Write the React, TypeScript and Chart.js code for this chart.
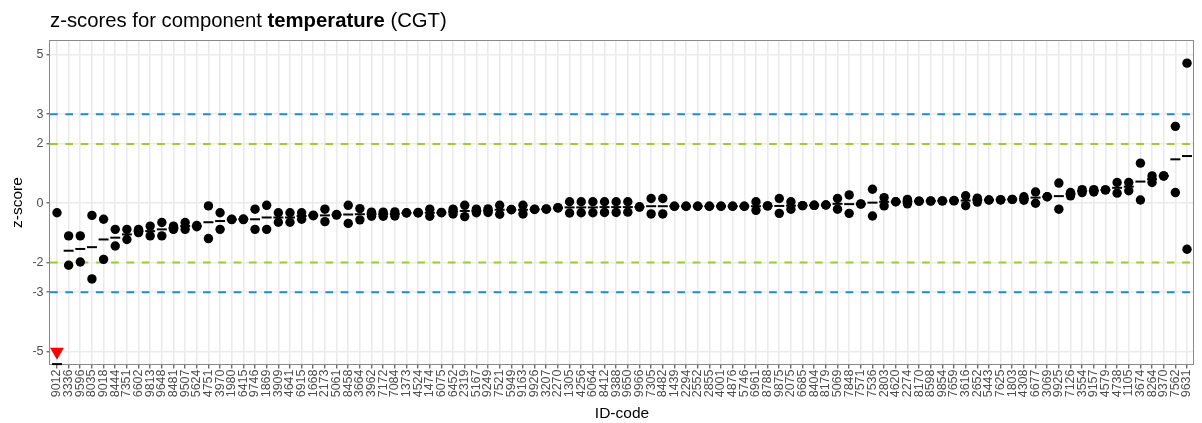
import React, { useEffect, useRef } from "react";
import { Chart, registerables } from "chart.js";

Chart.register(...registerables);

const FONT = "'Liberation Sans', Arial, Helvetica, sans-serif";

// Lab ID codes (x categories), sorted by mean z-score
const labCodes = [
  "9012","3336","9596","8035","9018","8444","7351","6602","9813","9648",
  "8481","9507","5624","4751","3970","1980","6415","9746","1869","3909",
  "4641","6915","1668","2173","5061","8458","3664","3962","7172","7084",
  "1373","4524","1474","6075","6452","2319","5167","9249","7521","5949",
  "9163","9926","3207","2270","1305","4256","6064","8412","9388","9650",
  "9966","7305","8482","1439","2294","2552","2855","4001","4876","5746",
  "6961","8788","9875","2075","6685","8404","8179","5069","7848","7571",
  "7536","2803","4620","2274","8170","8598","9854","7659","3616","2652",
  "5443","7625","1803","4308","6677","3069","9925","7126","3554","9157",
  "4579","4738","1105","3674","8264","9370","7562","9631",
];

// Replicate 1 z-scores
const replicate1 = [
  -0.32,-1.10,-1.10,-0.41,-0.54,-0.88,-0.88,-0.88,-0.77,-0.65,
  -0.77,-0.65,-0.75,-0.09,-0.32,-0.54,-0.53,-0.20,-0.07,-0.32,
  -0.32,-0.32,-0.40,-0.20,-0.38,-0.07,-0.18,-0.30,-0.30,-0.29,
  -0.32,-0.31,-0.20,-0.31,-0.20,-0.07,-0.20,-0.19,-0.07,-0.21,
  -0.07,-0.20,-0.19,-0.15,0.05,0.05,0.05,0.05,0.05,0.05,
  -0.12,0.16,0.16,-0.10,-0.10,-0.10,-0.10,-0.10,-0.10,-0.10,
  0.05,-0.09,0.16,0.05,-0.08,-0.07,-0.06,0.16,0.28,-0.02,
  0.47,0.19,0.05,0.13,0.07,0.07,0.08,0.08,0.25,0.17,
  0.11,0.11,0.13,0.22,0.38,0.22,0.68,0.36,0.46,0.46,
  0.45,0.70,0.70,1.35,0.92,0.92,2.59,4.72,
];

// Replicate 2 z-scores (null = off scale, shown as triangle)
const replicate2 = [
  null,-2.09,-1.98,-2.55,-1.89,-1.44,-1.22,-0.99,-1.10,-1.10,
  -0.88,-0.88,-0.79,-1.19,-0.88,-0.55,-0.55,-0.88,-0.88,-0.64,
  -0.64,-0.54,-0.42,-0.62,-0.40,-0.68,-0.56,-0.44,-0.44,-0.43,
  -0.33,-0.33,-0.44,-0.32,-0.36,-0.45,-0.32,-0.31,-0.37,-0.22,
  -0.36,-0.21,-0.20,-0.16,-0.33,-0.32,-0.32,-0.31,-0.31,-0.30,
  -0.13,-0.36,-0.36,-0.10,-0.10,-0.10,-0.10,-0.10,-0.10,-0.10,
  -0.24,-0.09,-0.34,-0.20,-0.08,-0.07,-0.06,-0.20,-0.34,-0.03,
  -0.43,-0.09,0.05,-0.02,0.07,0.08,0.08,0.09,-0.08,0.04,
  0.11,0.12,0.13,0.10,0.00,0.22,-0.20,0.25,0.36,0.38,
  0.45,0.34,0.42,0.11,0.70,0.92,0.36,-1.55,
];

// Lab means (9012 is below the axis range, drawn at the lower edge)
const labMean = [
  -5.42,-1.60,-1.54,-1.48,-1.22,-1.16,-1.05,-0.94,-0.94,-0.88,
  -0.83,-0.77,-0.77,-0.64,-0.60,-0.55,-0.54,-0.54,-0.48,-0.48,
  -0.48,-0.43,-0.41,-0.41,-0.39,-0.38,-0.37,-0.37,-0.37,-0.36,
  -0.33,-0.32,-0.32,-0.32,-0.28,-0.26,-0.26,-0.25,-0.22,-0.22,
  -0.22,-0.21,-0.20,-0.16,-0.14,-0.14,-0.14,-0.13,-0.13,-0.13,
  -0.13,-0.10,-0.10,-0.10,-0.10,-0.10,-0.10,-0.10,-0.10,-0.10,
  -0.10,-0.09,-0.09,-0.08,-0.08,-0.07,-0.06,-0.02,-0.03,-0.03,
  0.02,0.05,0.05,0.06,0.07,0.08,0.08,0.09,0.09,0.11,
  0.11,0.12,0.13,0.16,0.19,0.22,0.24,0.31,0.41,0.42,
  0.45,0.52,0.56,0.73,0.81,0.92,1.48,1.59,
];

// Off-scale markers (value below the lower limit)
const offScaleLabs = ["9012"];
const offScaleMarker = [-5];

const yTicks = [-5, -3, -2, 0, 2, 3, 5];
const warningLimits = [-2, 2];
const actionLimits = [-3, 3];

const titleParts = [
  { text: "z-scores for component ", bold: false },
  { text: "temperature", bold: true },
  { text: " (CGT)", bold: false },
];

const titlePlugin = {
  id: "mixedTitle",
  afterDraw(chart: any) {
    const ctx = chart.ctx;
    ctx.save();
    ctx.fillStyle = "#000";
    ctx.textBaseline = "alphabetic";
    ctx.textAlign = "left";
    let x = chart.chartArea.left;
    for (const p of titleParts) {
      ctx.font = `${p.bold ? "bold " : ""}20.3px ${FONT}`;
      ctx.fillText(p.text, x, 27);
      x += ctx.measureText(p.text).width;
    }
    ctx.restore();
  },
};

const limitsPlugin = {
  id: "limitLines",
  beforeDatasetsDraw(chart: any) {
    const { ctx, chartArea: a, scales } = chart;
    const y = scales.y;
    // panel border
    ctx.save();
    ctx.strokeStyle = "#8a8a8a";
    ctx.lineWidth = 1;
    ctx.strokeRect(Math.round(a.left) - 0.5, Math.round(a.top) + 0.5, Math.round(a.right - a.left), Math.round(a.bottom - a.top) - 1);
    ctx.restore();
    // reference lines
    ctx.save();
    ctx.beginPath();
    ctx.rect(a.left, a.top, a.right - a.left, a.bottom - a.top);
    ctx.clip();
    ctx.lineWidth = 2;
    ctx.setLineDash([7.7, 7.6]);
    const draw = (vals: number[], color: string) => {
      ctx.strokeStyle = color;
      for (const v of vals) {
        const py = y.getPixelForValue(v);
        ctx.beginPath();
        ctx.moveTo(a.left, py);
        ctx.lineTo(a.right, py);
        ctx.stroke();
      }
    };
    draw(warningLimits, "#9ACD32");
    draw(actionLimits, "#1E8BD6");
    ctx.restore();
  },
};

export default function App() {
  const ref = useRef<HTMLCanvasElement | null>(null);

  useEffect(() => {
    if (!ref.current) return;
    const idx = (code: string) => labCodes.indexOf(code);
    const chart = new Chart(ref.current, {
      type: "scatter",
      data: {
        datasets: [
          {
            label: "mean",
            data: labCodes.map((_, i) => ({ x: i, y: labMean[i] })),
            pointStyle: "line",
            pointRadius: 5,
            pointBorderWidth: 2,
            borderColor: "#000",
            backgroundColor: "#000",
            order: 3,
            clip: false as any,
          },
          {
            label: "replicate 1",
            data: labCodes.map((_, i) => ({ x: i, y: replicate1[i] })),
            pointStyle: "circle",
            pointRadius: 4.7,
            pointBorderWidth: 0,
            borderColor: "#000",
            backgroundColor: "#000",
            order: 1,
          },
          {
            label: "replicate 2",
            data: labCodes
              .map((_, i) => ({ x: i, y: replicate2[i] }))
              .filter((d) => d.y !== null) as any,
            pointStyle: "circle",
            pointRadius: 4.7,
            pointBorderWidth: 0,
            borderColor: "#000",
            backgroundColor: "#000",
            order: 1,
          },
          {
            label: "off scale",
            data: offScaleLabs.map((c, k) => ({ x: idx(c), y: offScaleMarker[k] })),
            pointStyle: "triangle",
            pointRotation: 180,
            pointRadius: 8,
            pointBorderWidth: 0,
            borderColor: "#FF0000",
            backgroundColor: "#FF0000",
            order: 0,
          },
        ],
      },
      options: {
        responsive: false,
        animation: false,
        events: [],
        layout: { padding: { left: 0, right: 1, top: 40, bottom: 0 } },
        plugins: {
          legend: { display: false },
          tooltip: { enabled: false },
          title: { display: false },
        },
        scales: {
          x: {
            type: "linear",
            min: -0.6,
            max: labCodes.length - 1 + 0.6,
            afterBuildTicks: (s: any) => {
              s.ticks = labCodes.map((_, i) => ({ value: i }));
            },
            afterFit: (s: any) => {
              s.height = 58;
              s.paddingLeft = 0;
              s.paddingRight = 0;
            },
            ticks: {
              autoSkip: false,
              maxRotation: 90,
              minRotation: 90,
              padding: 1,
              color: "#4d4d4d",
              font: { family: FONT, size: 12.5 },
              callback: (v: any) => labCodes[Math.round(v)] ?? "",
            },
            grid: {
              color: "#ebebeb",
              lineWidth: 1.6,
              tickLength: 3.5,
              tickColor: "#333",
              tickWidth: 1,
            },
            border: { display: false },
            title: {
              display: true,
              text: "ID-code",
              color: "#000",
              font: { family: FONT, size: 15.5 },
              padding: { top: 0, bottom: 0 },
            },
          },
          y: {
            type: "linear",
            min: -5.45,
            max: 5.5,
            afterBuildTicks: (s: any) => {
              s.ticks = yTicks.map((v) => ({ value: v }));
            },
            afterFit: (s: any) => {
              s.width = 50;
            },
            ticks: {
              autoSkip: false,
              padding: 3,
              color: "#4d4d4d",
              font: { family: FONT, size: 12.5 },
            },
            grid: {
              color: "#ebebeb",
              lineWidth: 1.6,
              tickLength: 3.5,
              tickColor: "#333",
              tickWidth: 1,
            },
            border: { display: false },
            title: {
              display: true,
              text: "z-score",
              color: "#000",
              font: { family: FONT, size: 15.5 },
              padding: { top: 8, bottom: 0 },
            },
          },
        },
      },
      plugins: [limitsPlugin, titlePlugin],
    });
    return () => chart.destroy();
  }, []);

  return (
    <div style={{ position: "absolute", left: 0, top: 0, width: 1202, height: 423, background: "#fff" }}>
      <canvas ref={ref} width={1202} height={423} style={{ display: "block" }} />
    </div>
  );
}
